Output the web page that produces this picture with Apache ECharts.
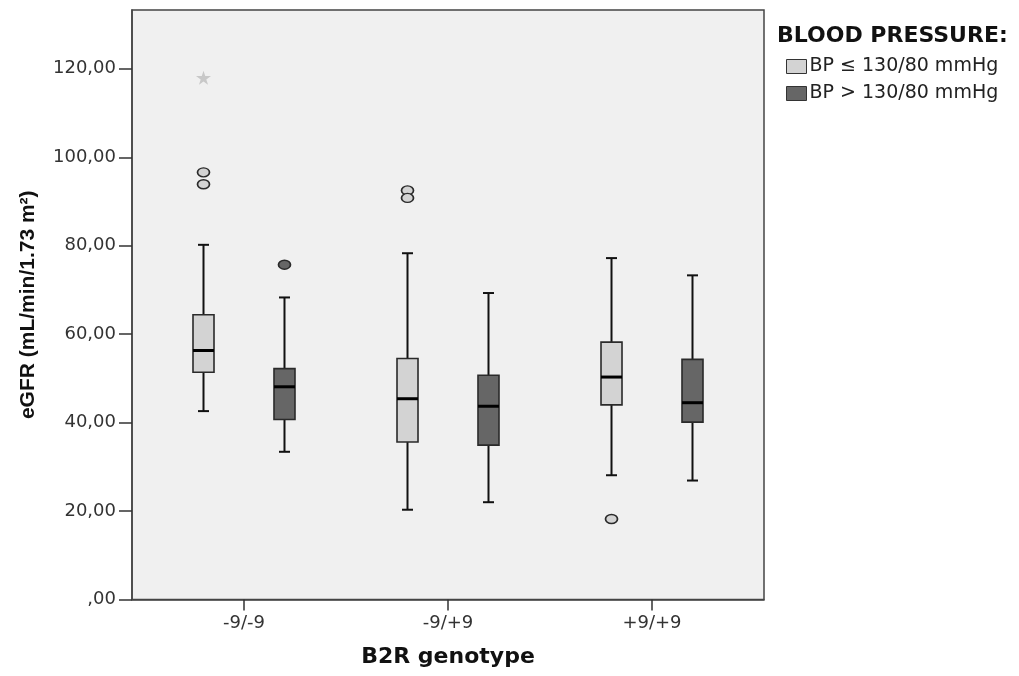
<!DOCTYPE html>
<html>
<head>
<meta charset="utf-8">
<script src="https://cdn.jsdelivr.net/npm/echarts@6/dist/echarts.min.js"></script>
<style>
  html, body { margin: 0; padding: 0; background: #ffffff; }
  #chart { width: 1019px; height: 676px; }
</style>
</head>
<body>
<div id="chart"></div>
<script>
const genotypes = ['-9/-9', '-9/+9', '+9/+9'];
const yTicks = [0, 20, 40, 60, 80, 100, 120];
const seriesNames = ['BP \u2264 130/80 mmHg', 'BP > 130/80 mmHg'];

// [whisker low, Q1, median, Q3, whisker high] per genotype
const bpLowBoxes = [
  [42.6, 51.4, 56.3, 64.4, 80.2],
  [20.3, 35.6, 45.4, 54.5, 78.3],
  [28.1, 44.0, 50.3, 58.2, 77.2]
];
const bpHighBoxes = [
  [33.4, 40.7, 48.1, 52.2, 68.3],
  [22.0, 34.9, 43.7, 50.7, 69.3],
  [26.9, 40.1, 44.5, 54.3, 73.3]
];
// [genotype index, value]
const bpLowOutliers = [[0, 96.6], [0, 93.9], [1, 92.5], [1, 90.8], [2, 18.2]];
const bpLowExtremes = [[0, 118.0]];
const bpHighOutliers = [[0, 75.7]];

const lightFill = '#d3d3d3';
const darkFill = '#666666';
const lineColor = '#2a2a2a';
const groupOffset = 0.1985; // box shift from genotype centre, in category units

const chartInstance = echarts.init(document.getElementById('chart'), null, { renderer: 'canvas' });

function boxRenderer(offset, fill) {
  return function (params, api) {
    const x = api.value(0) + offset;
    const low = api.coord([x, api.value(1)]);
    const q1 = api.coord([x, api.value(2)]);
    const med = api.coord([x, api.value(3)]);
    const q3 = api.coord([x, api.value(4)]);
    const high = api.coord([x, api.value(5)]);
    const cx = med[0];
    const halfBox = 10.5;
    const halfCap = 5.5;
    const wStyle = { stroke: '#111', lineWidth: 2 };
    return {
      type: 'group',
      children: [
        { type: 'line', shape: { x1: cx, y1: low[1], x2: cx, y2: q1[1] }, style: wStyle },
        { type: 'line', shape: { x1: cx, y1: q3[1], x2: cx, y2: high[1] }, style: wStyle },
        { type: 'line', shape: { x1: cx - halfCap, y1: low[1], x2: cx + halfCap, y2: low[1] }, style: wStyle },
        { type: 'line', shape: { x1: cx - halfCap, y1: high[1], x2: cx + halfCap, y2: high[1] }, style: wStyle },
        {
          type: 'rect',
          shape: { x: cx - halfBox, y: q3[1], width: halfBox * 2, height: q1[1] - q3[1] },
          style: { fill: fill, stroke: lineColor, lineWidth: 1.6 }
        },
        { type: 'line', shape: { x1: cx - halfBox, y1: med[1], x2: cx + halfBox, y2: med[1] }, style: { stroke: '#000', lineWidth: 3 } }
      ]
    };
  };
}

const toBoxData = boxes => boxes.map((b, i) => [i].concat(b));
const shift = (pts, offset) => pts.map(p => [p[0] + offset, p[1]]);

chartInstance.setOption({
  animation: false,
  textStyle: { fontFamily: 'DejaVu Sans' },
  title: {
    text: 'BLOOD PRESSURE:',
    left: 772,
    top: 20,
    textStyle: { fontFamily: 'DejaVu Sans', fontWeight: 'bold', fontSize: 22, color: '#111' }
  },
  legend: {
    data: seriesNames,
    orient: 'vertical',
    left: 781,
    top: 52,
    itemWidth: 20,
    itemHeight: 14,
    itemGap: 8,
    icon: 'rect',
    itemStyle: { borderColor: '#333', borderWidth: 1 },
    textStyle: { fontFamily: 'DejaVu Sans', fontSize: 19, color: '#222', padding: [0, 0, 0, -2] }
  },
  grid: {
    left: 132,
    right: 255,
    top: 10,
    bottom: 76.5,
    show: true,
    backgroundColor: '#f0f0f0',
    borderColor: '#444',
    borderWidth: 1.5
  },
  xAxis: {
    type: 'value',
    min: -0.549,
    max: 2.549,
    name: 'B2R genotype',
    nameLocation: 'middle',
    nameGap: 47,
    nameTextStyle: { fontFamily: 'DejaVu Sans', fontWeight: 'bold', fontSize: 22, color: '#111' },
    splitLine: { show: false },
    axisLine: { onZero: false, lineStyle: { color: '#444', width: 1.5 } },
    axisTick: { length: 11, lineStyle: { color: '#333', width: 1.5 }, customValues: [0, 1, 2] },
    axisLabel: {
      customValues: [0, 1, 2],
      margin: 15,
      fontSize: 18,
      color: '#333',
      formatter: v => genotypes[Math.round(v)]
    }
  },
  yAxis: {
    type: 'value',
    min: 0,
    max: 133.3,
    name: 'eGFR (mL/min/1.73 m\u00b2)',
    nameLocation: 'middle',
    nameRotate: 90,
    nameGap: 93,
    nameTextStyle: { fontFamily: 'Liberation Sans', fontWeight: 'bold', fontSize: 21, color: '#111' },
    splitLine: { show: false },
    axisLine: { show: true, onZero: false, lineStyle: { color: '#444', width: 1.5 } },
    axisTick: { show: true, length: 13, lineStyle: { color: '#333', width: 1.5 }, customValues: yTicks },
    axisLabel: {
      customValues: yTicks,
      margin: 16,
      fontSize: 18,
      color: '#333',
      formatter: v => v === 0 ? ',00' : v.toFixed(2).replace('.', ',')
    }
  },
  series: [
    {
      name: seriesNames[0],
      type: 'custom',
      renderItem: boxRenderer(-groupOffset, lightFill),
      itemStyle: { color: lightFill },
      encode: { x: 0, y: [1, 2, 3, 4, 5] },
      data: toBoxData(bpLowBoxes),
      z: 2
    },
    {
      name: seriesNames[1],
      type: 'custom',
      renderItem: boxRenderer(groupOffset, darkFill),
      itemStyle: { color: darkFill },
      encode: { x: 0, y: [1, 2, 3, 4, 5] },
      data: toBoxData(bpHighBoxes),
      z: 2
    },
    {
      name: seriesNames[0],
      type: 'scatter',
      symbol: 'circle',
      symbolSize: [12, 9],
      itemStyle: { color: lightFill, borderColor: lineColor, borderWidth: 1.5, opacity: 1 },
      data: shift(bpLowOutliers, -groupOffset),
      z: 3
    },
    {
      name: seriesNames[0],
      type: 'scatter',
      symbol: 'path://M50,0 L61,35 L98,35 L68,57 L79,91 L50,70 L21,91 L32,57 L2,35 L39,35 Z',
      symbolSize: [15, 14],
      itemStyle: { color: '#c8c8c8', opacity: 1 },
      data: shift(bpLowExtremes, -groupOffset),
      z: 3
    },
    {
      name: seriesNames[1],
      type: 'scatter',
      symbol: 'circle',
      symbolSize: [12, 9],
      itemStyle: { color: darkFill, borderColor: lineColor, borderWidth: 1.5, opacity: 1 },
      data: shift(bpHighOutliers, groupOffset),
      z: 3
    }
  ]
});
</script>
</body>
</html>
